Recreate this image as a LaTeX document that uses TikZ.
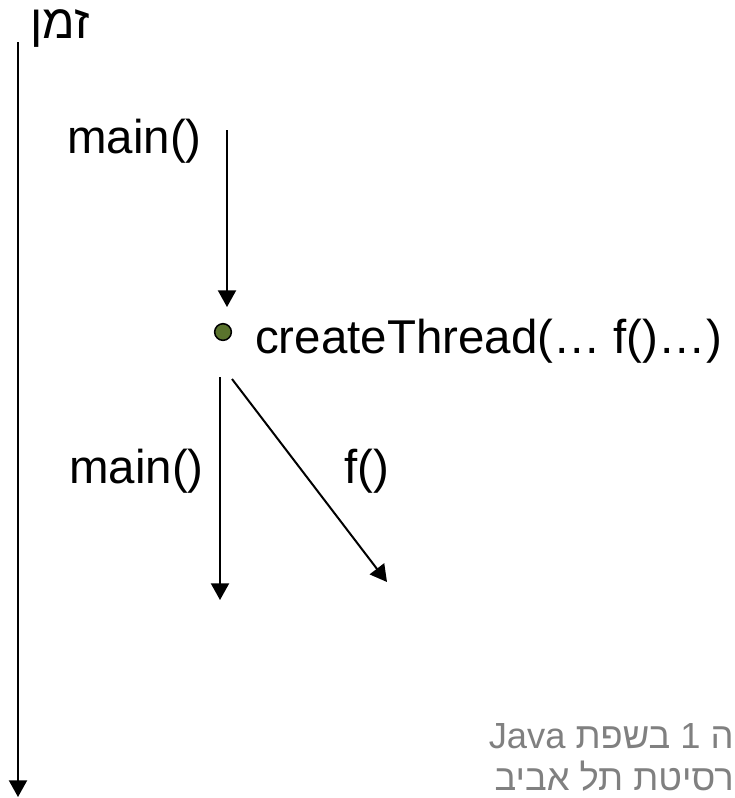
\documentclass[tikz,border=0pt]{standalone}
\usepackage{fontspec}
\setmainfont{Liberation Sans}
\newfontfamily\hebfont[Script=Hebrew]{Liberation Sans}
\TeXXeTstate=1
\usetikzlibrary{arrows.meta}
\definecolor{dotgreen}{RGB}{90,115,45}

\begin{document}
\begin{tikzpicture}[x=0.03cm,y=-0.03cm,
    flow/.style={-{Triangle[length=0.5cm,width=0.54cm]},line width=1.7pt},
    big text/.style={inner sep=0pt,font=\fontsize{40.5}{40.5}\selectfont},
    note text/.style={inner sep=0pt,text=gray,font=\fontsize{31}{31}\selectfont}]
    \useasboundingbox (0,0) rectangle (735,798);
    % time axis
    \node[big text,anchor=base east] (time) at (90,38) {\hebfont\beginR זמן\endR};
    \coordinate (t0) at (18,42);
    \coordinate (t1) at (18,797);
    \draw[flow] (t0) -- (t1);
    % main thread before the call
    \node[big text,anchor=base west] (main1) at (67,153) {main()};
    \coordinate (m0) at (227,130);
    \coordinate (m1) at (227,307);
    \draw[flow] (m0) -- (m1);
    \node[circle,draw,line width=1.3pt,fill=dotgreen,minimum size=0.5cm,inner sep=0pt] (spawn) at (223,332) {};
    \node[big text,anchor=base west] (create) at (255,353) {createThread(… f()…)};
    % the two threads after the call
    \coordinate (a0) at (220,377);
    \coordinate (a1) at (220,600);
    \coordinate (b0) at (232,379);
    \coordinate (b1) at (387,582);
    \path[flow]
        (a0) edge (a1)
        (b0) edge (b1);
    \node[big text,anchor=base west] (main2) at (69,483) {main()};
    \node[big text,anchor=base west] (fthread) at (344,483) {f()};
    % footer
    \node[note text,anchor=base east] (foot1) at (734,748) {\hebfont\beginR ה 1 בשפת \beginL Java\endL\endR};
    \node[note text,anchor=base east] (foot2) at (734,790) {\hebfont\beginR רסיטת תל אביב\endR};
\end{tikzpicture}
\end{document}
